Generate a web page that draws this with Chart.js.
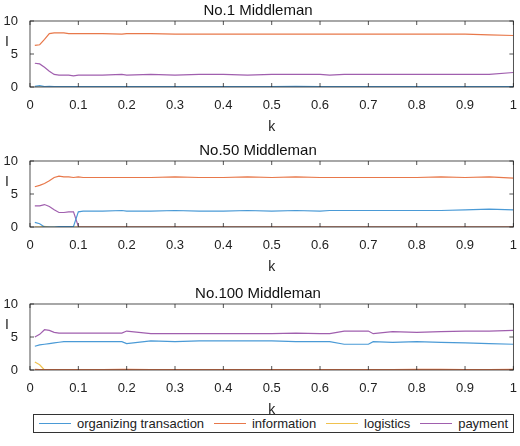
<!DOCTYPE html>
<html><head><meta charset="utf-8">
<script src="https://cdn.jsdelivr.net/npm/chart.js@4"></script>
<style>
body{margin:0;background:#fff;font-family:"Liberation Sans",Arial,sans-serif;}
.p{position:absolute;left:0;width:520px;height:140px;}
#legend{position:absolute;left:33px;top:414px;width:481px;height:19px;border:1px solid #333;box-sizing:border-box;display:flex;align-items:center;justify-content:space-around;font-size:13px;color:#222;background:#fff;}
#legend span{display:inline-flex;align-items:center;}
#legend i{display:inline-block;width:32px;height:0;border-top:1.5px solid;margin-right:6px;}
</style></head><body>
<div class="p" style="top:0"><canvas id="c1"></canvas></div>
<div class="p" style="top:140px"><canvas id="c2"></canvas></div>
<div class="p" style="top:283px"><canvas id="c3"></canvas></div>
<div id="legend"></div>
<script>
const K = [0.01,0.02,0.03,0.04,0.05,0.06,0.07,0.08,0.09,0.1,0.11,0.15,0.19,0.2,0.25,0.3,0.35,0.4,0.45,0.5,0.55,0.6,0.62,0.65,0.7,0.71,0.75,0.8,0.85,0.9,0.95,1.0];
const SERIES = ['organizing transaction','information','logistics','payment'];
const COLORS = ['#4a9ad6','#e8784a','#f0c24f','#a05fae'];
const TITLES = ['No.1 Middleman','No.50 Middleman','No.100 Middleman'];
const X_TICKS = [0,0.1,0.2,0.3,0.4,0.5,0.6,0.7,0.8,0.9,1];
const Y_TICKS = [0,5,10];

const p1_org = [0.1,0.2,0.05,0.1,0.05,0.05,0.05,0.05,0.05,0.05,0.05,0.05,0.05,0.05,0.05,0.05,0.05,0.05,0.05,0.05,0.1,0.05,0.05,0.05,0.05,0.05,0.05,0.05,0.05,0.05,0.05,0.05];
const p1_info = [6.3,6.4,7.2,8.1,8.2,8.2,8.2,8.1,8.1,8.1,8.1,8.1,8.0,8.1,8.1,8.0,8.0,8.0,8.0,8.0,8.0,8.0,8.0,8.0,8.0,8.0,8.0,8.0,8.0,8.0,7.9,7.8];
const p1_log = [0,0,0,0,0,0,0,0,0,0,0,0,0,0,0,0,0,0,0,0,0,0,0,0,0,0,0,0,0,0,0,0];
const p1_pay = [3.6,3.5,3.0,2.4,1.9,1.8,1.8,1.8,1.7,1.8,1.8,1.8,1.9,1.8,1.9,1.8,1.9,1.9,1.8,1.9,1.9,1.9,1.8,1.9,1.9,1.9,1.9,1.9,1.9,1.9,1.9,2.2];

const p2_org = [0.7,0.5,0,0,0,0.05,0.05,0.05,0.1,2.3,2.4,2.4,2.5,2.4,2.4,2.5,2.4,2.4,2.5,2.4,2.5,2.4,2.5,2.5,2.5,2.5,2.5,2.5,2.5,2.6,2.7,2.6];
const p2_info = [6.1,6.3,6.6,7.0,7.5,7.7,7.6,7.6,7.5,7.6,7.5,7.5,7.5,7.5,7.5,7.6,7.5,7.5,7.6,7.5,7.6,7.5,7.5,7.5,7.5,7.5,7.5,7.5,7.6,7.5,7.6,7.4];
const p2_log = [0,0,0.1,0,0,0,0,0,0,0,0,0,0,0,0,0,0,0,0,0,0,0,0,0,0,0,0,0,0,0,0,0];
const p2_pay = [3.2,3.2,3.4,3.1,2.6,2.2,2.2,2.3,2.3,0.1,0.05,0.05,0.05,0.05,0.05,0.05,0.05,0.05,0.05,0.05,0.05,0.05,0.05,0.05,0.05,0.05,0.05,0.05,0.05,0.05,0.05,0.05];

const p3_org = [3.6,3.8,3.9,4.0,4.1,4.2,4.3,4.3,4.3,4.3,4.3,4.3,4.3,4.0,4.4,4.3,4.4,4.4,4.4,4.4,4.3,4.3,4.3,3.9,3.9,4.3,4.2,4.3,4.2,4.1,4.0,3.9];
const p3_info = [0.1,0.05,0.05,0.05,0.05,0.05,0.05,0.05,0.05,0.05,0.05,0.05,0.1,0.1,0.05,0.05,0.05,0.05,0.05,0.05,0.05,0.05,0.05,0.05,0.05,0.05,0.05,0.1,0.1,0.05,0.05,0.1];
const p3_log = [1.2,0.8,0,0,0,0,0,0,0,0,0,0,0,0,0,0,0,0,0,0,0,0,0,0,0,0,0,0,0,0,0,0];
const p3_pay = [5.0,5.4,6.1,6.0,5.7,5.6,5.6,5.6,5.6,5.6,5.6,5.6,5.6,5.9,5.5,5.5,5.5,5.5,5.5,5.5,5.6,5.5,5.5,5.9,5.9,5.5,5.8,5.7,5.8,5.9,5.9,6.0];

const PANELS = [[p1_org,p1_info,p1_log,p1_pay],[p2_org,p2_info,p2_log,p2_pay],[p3_org,p3_info,p3_log,p3_pay]];
const FONT = {family: '"Liberation Sans", Arial, sans-serif', size: 13};

const boxPlugin = {
  id: 'box',
  afterDraw(chart) {
    const {ctx, chartArea: a, scales} = chart;
    ctx.save();
    ctx.strokeStyle = '#262626'; ctx.lineWidth = 0.8;
    ctx.strokeRect(a.left, a.top, a.right - a.left, a.bottom - a.top);
    ctx.beginPath();
    X_TICKS.forEach(v => { const x = scales.x.getPixelForValue(v); ctx.moveTo(x, a.bottom); ctx.lineTo(x, a.bottom - 4); ctx.moveTo(x, a.top); ctx.lineTo(x, a.top + 4); });
    Y_TICKS.forEach(v => { const y = scales.y.getPixelForValue(v); ctx.moveTo(a.left, y); ctx.lineTo(a.left + 4, y); ctx.moveTo(a.right, y); ctx.lineTo(a.right - 4, y); });
    ctx.stroke();
    // y axis label
    ctx.fillStyle = '#222';
    ctx.font = '14px ' + FONT.family;
    ctx.textAlign = 'center'; ctx.textBaseline = 'middle';
    ctx.fillText('I', 7, scales.y.getPixelForValue(6.8));
    ctx.restore();
  }
};

PANELS.forEach((vals, pi) => {
  new Chart(document.getElementById('c' + (pi + 1)), {
    type: 'line',
    data: {
      datasets: SERIES.map((s, i) => ({
        label: s,
        data: K.map((k, j) => ({x: k, y: vals[i][j]})),
        borderColor: COLORS[i], borderWidth: 1.2, pointRadius: 0, tension: 0, fill: false
      }))
    },
    options: {
      responsive: true, maintainAspectRatio: false, animation: false,
      layout: {padding: {right: 4, left: 0}},
      plugins: {
        legend: {display: false}, tooltip: {enabled: false},
        title: {display: true, text: TITLES[pi], color: '#111', font: {family: FONT.family, size: 15, weight: 'normal'}, padding: {top: 2, bottom: 1}}
      },
      scales: {
        x: {
          type: 'linear', min: 0, max: 1,
          afterBuildTicks: s => { s.ticks = X_TICKS.map(v => ({value: v})); },
          afterFit: s => { s.height = 53; },
          grid: {display: false}, border: {display: false},
          ticks: {color: '#222', font: FONT, padding: 3, maxRotation: 0, callback: v => String(v)},
          title: {display: true, text: 'k', color: '#222', font: {family: FONT.family, size: 14}, padding: {top: 2}}
        },
        y: {
          min: 0, max: 10,
          afterBuildTicks: s => { s.ticks = Y_TICKS.map(v => ({value: v})); },
          afterFit: s => { s.width = 30; },
          grid: {display: false}, border: {display: false},
          ticks: {color: '#222', font: FONT, padding: 4}
        }
      }
    },
    plugins: [boxPlugin]
  });
});

const lg = document.getElementById('legend');
SERIES.forEach((s, i) => {
  const sp = document.createElement('span');
  sp.innerHTML = `<i style="border-color:${COLORS[i]}"></i>${s}`;
  lg.appendChild(sp);
});
</script>
</body></html>
